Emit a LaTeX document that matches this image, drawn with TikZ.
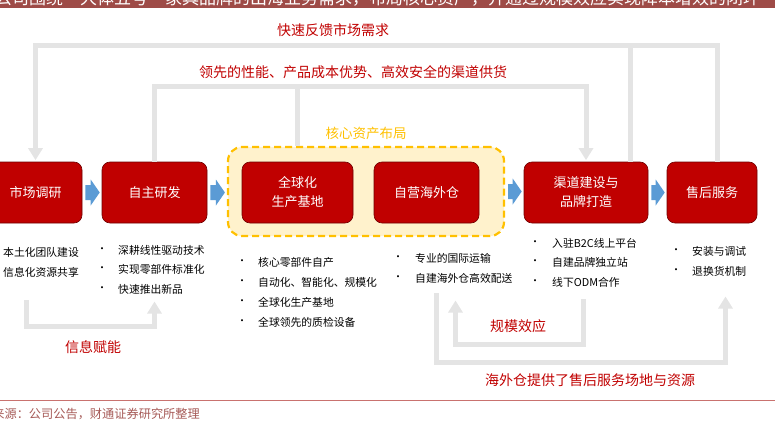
\documentclass[tikz,border=0pt]{standalone}
\usepackage{fontspec}
\setmainfont{Noto Sans CJK SC}
\usepackage{tikz}
\usetikzlibrary{arrows.meta,positioning,calc}
\definecolor{cfred}{HTML}{C00000}
\definecolor{cfdark}{HTML}{6E0000}
\definecolor{cfbanner}{HTML}{9E4B47}
\definecolor{cfgray}{HTML}{E4E4E4}
\definecolor{cfblue}{HTML}{5B9BD5}
\definecolor{cfyellow}{HTML}{FFC000}
\definecolor{cfcream}{HTML}{FFF2CC}
\definecolor{cfsrc}{HTML}{A65A57}
\definecolor{cfrule}{HTML}{C9726F}

\begin{document}
\begin{tikzpicture}[x=1pt, y=-1pt,
  stagebox/.style={rectangle, rounded corners=8pt, draw=cfdark, fill=cfred, line width=0.6pt,
    text=white, font=\fontsize{13}{19}\selectfont, align=center, minimum height=61pt, inner sep=0pt},
  corebox/.style={rectangle, rounded corners=14pt, draw=cfyellow, fill=cfcream, dashed,
    dash pattern=on 7pt off 4pt, line width=2.2pt, minimum width=276pt, minimum height=89pt},
  itemrow/.style={font=\fontsize{10.8}{13}\selectfont, anchor=west, inner sep=0pt},
  itemdot/.style={font=\fontsize{10}{11}\selectfont, inner sep=0pt},
  redlabel/.style={font=\fontsize{14}{16}\selectfont, text=cfred, inner sep=0pt},
  fbline/.style={draw=cfgray, line width=5pt},
  fbarrow/.style={fbline, -{Triangle[width=14pt,length=12pt]}, shorten >=1.5pt},
]
\useasboundingbox (0,0) rectangle (775,422);

% banner at the top, cut by the page edge
\fill[cfbanner] (0,0) rectangle (775,8);
\begin{scope}
  \clip (0,0) rectangle (775,8);
  \node[font=\fontsize{17}{18}\selectfont, text=white, anchor=west, inner sep=0pt] (banner) at (-5,-1.5)
    {公司围绕“大体五号”家具品牌的出海业务需求，布局核心资产，并通过规模效应实现降本增效的闭环};
\end{scope}

% stages
\node[stagebox, minimum width=93pt]  (mkt) at (35.5,192.5) {市场调研};
\node[stagebox, minimum width=105pt] (dev) at (154.5,192.5) {自主研发};
\node[corebox] (core) at (366,191.5) {};
\node[font=\fontsize{13.5}{15}\selectfont, text=cfyellow, inner sep=0pt, above=6pt of core] (corelbl) {核心资产布局};
\node[stagebox, minimum width=111pt] (glb) at (297.5,192.5) {全球化\\生产基地};
\node[stagebox, minimum width=105pt] (wh)  at (426.5,192.5) {自营海外仓};
\node[stagebox, minimum width=124pt] (chn) at (586,192.5) {渠道建设与\\品牌打造};
\node[stagebox, minimum width=90pt]  (shw) at (712,192.5) {售后服务};

% blue block arrows between stages
\foreach \src/\dst in {mkt/dev, dev/core, core/chn, chn/shw} {
  \fill[cfblue] let \p1=($(\src.east)+(3,0)$), \p2=($(\dst.west)+(-2,0)$) in
    (\x1,\y1+7.5pt) -- (\x2-9pt,\y1+7.5pt) -- (\x2-9pt,\y1+13pt) -- (\x2,\y1)
    -- (\x2-9pt,\y1-13pt) -- (\x2-9pt,\y1-7.5pt) -- (\x1,\y1-7.5pt) -- cycle;
}

% feedback loops above
\coordinate (fbtop) at (400,45.5);
\coordinate (shwfb) at ($(shw.north)+(5,0)$);
\coordinate (chnfb) at ($(chn.north east)+(-18,0)$);
\draw[fbline] (chnfb) -- (chnfb |- fbtop);
\draw[fbarrow] (shwfb) |- (fbtop) -| (mkt.north);
\node[redlabel] (fastlbl) at (333,30) {快速反馈市场需求};

\coordinate (leadtop) at (370,87);
\draw[fbline] (glb.north |- core.north) -- (glb.north |- leadtop);
\draw[fbarrow] (dev.north) |- (leadtop) -| (chn.north);
\node[redlabel] (leadlbl) at (353,72.5) {领先的性能、产品成本优势、高效安全的渠道供货};

% bullet lists
\foreach \y/\txt in {252.5/本土化团队建设, 272.5/信息化资源共享}
  \node[itemrow] (mkt\y) at (3,\y) {\txt};
\foreach \y/\txt in {250/深耕线性驱动技术, 269.5/实现零部件标准化, 289/快速推出新品} {
  \node[itemdot] (devd\y) at (102,\y) {•};
  \node[itemrow] (dev\y) at (118,\y) {\txt};
}
\foreach \y/\txt in {262/核心零部件自产, 282/自动化、智能化、规模化, 302/全球化生产基地, 322/全球领先的质检设备} {
  \node[itemdot] (glbd\y) at (242,\y) {•};
  \node[itemrow] (glb\y) at (258,\y) {\txt};
}
\foreach \y/\txt in {258/专业的国际运输, 278/自建海外仓高效配送} {
  \node[itemdot] (whd\y) at (398,\y) {•};
  \node[itemrow] (wh\y) at (415,\y) {\txt};
}
\foreach \y/\txt in {243/入驻B2C线上平台, 262.5/自建品牌独立站, 282/线下ODM合作} {
  \node[itemdot] (chnd\y) at (535,\y) {•};
  \node[itemrow] (chn\y) at (552,\y) {\txt};
}
\foreach \y/\txt in {251.5/安装与调试, 271/退换货机制} {
  \node[itemdot] (shwd\y) at (676,\y) {•};
  \node[itemrow] (shw\y) at (692,\y) {\txt};
}

% feedback loops below
\coordinate (infoA) at (26,300);
\coordinate (infoC) at (90,326.5);
\coordinate (infoB) at (154.5,300);
\draw[fbarrow] (infoA) |- (infoC) -| (infoB);
\node[redlabel] (infolbl) at (93,347.5) {信息赋能};

\coordinate (scaleA) at (583.5,299);
\coordinate (scaleC) at (520,344);
\coordinate (scaleB) at (455.5,299);
\draw[fbarrow] (scaleA) |- (scaleC) -| (scaleB);
\node[redlabel] (scalelbl) at (518,326) {规模效应};

\coordinate (svcA) at (436.5,293);
\coordinate (svcC) at (580,362.5);
\coordinate (svcB) at (725.5,295);
\draw[fbarrow] (svcA) |- (svcC) -| (svcB);
\node[redlabel] (svclbl) at (590,380.5) {海外仓提供了售后服务场地与资源};

% source line
\draw[cfrule, line width=0.8pt] (0,400.5) -- (775,400.5);
\node[font=\fontsize{12.2}{14}\selectfont, text=cfsrc, anchor=east, inner sep=0pt] (srclbl) at (200,414)
  {资料来源：公司公告，财通证券研究所整理};
\end{tikzpicture}
\end{document}
